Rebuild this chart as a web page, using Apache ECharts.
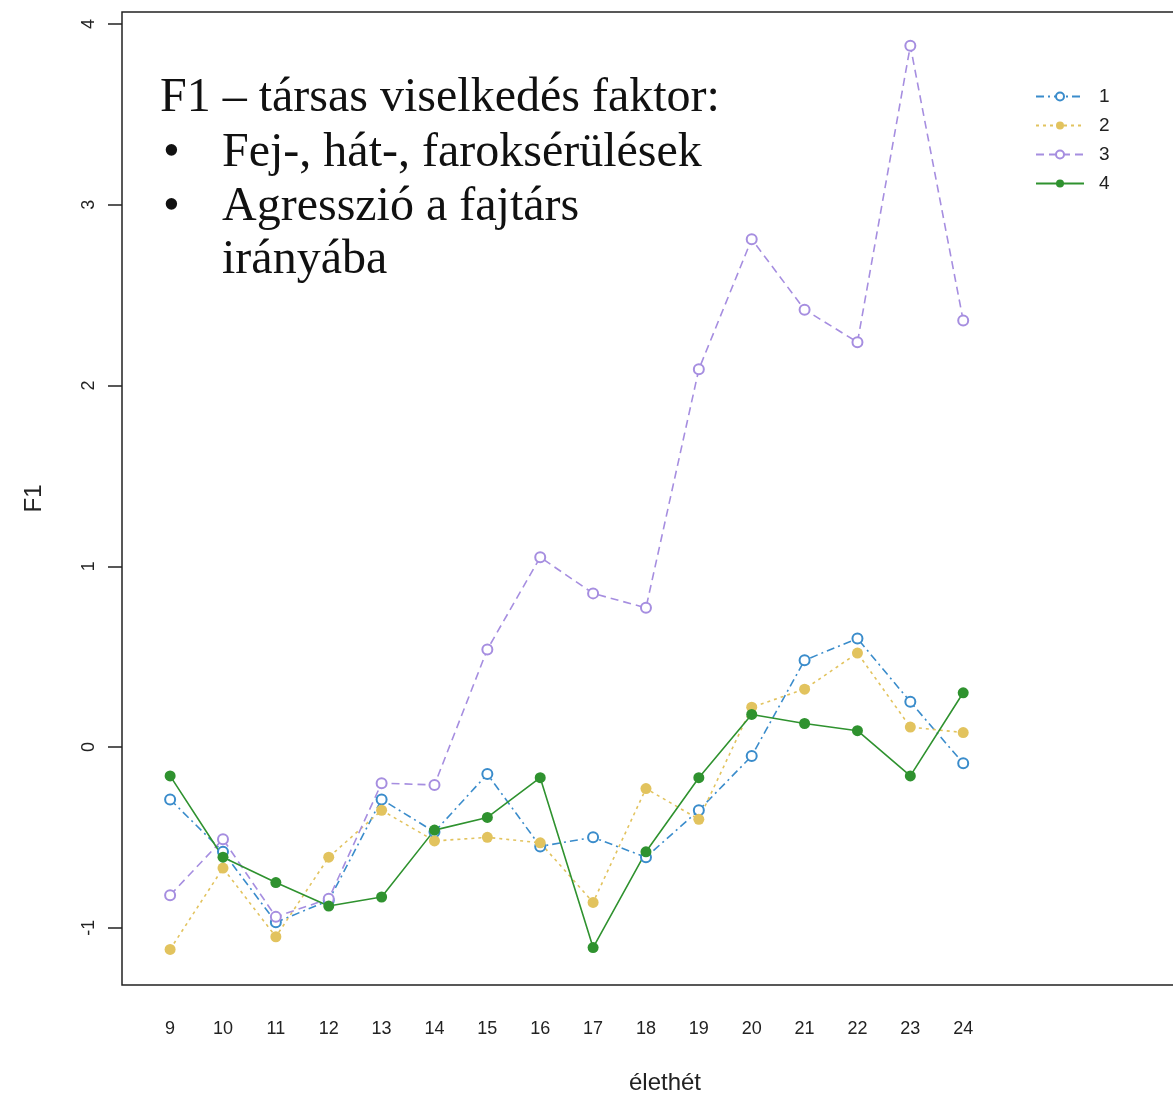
<!DOCTYPE html>
<html>
<head>
<meta charset="utf-8" />
<title>F1 - élethét</title>
<script src="https://cdn.jsdelivr.net/npm/echarts@6/dist/echarts.min.js"></script>
<style>
  html, body { margin: 0; padding: 0; background: #fff; }
  #chart { width: 1173px; height: 1101px; }
</style>
</head>
<body>
<div id="chart"></div>
<script>
// hetek (x tengely)
var weeks = [9, 10, 11, 12, 13, 14, 15, 16, 17, 18, 19, 20, 21, 22, 23, 24];
var groupNames = ['1', '2', '3', '4'];
var yTicks = [-1, 0, 1, 2, 3, 4];

// F1 értékek csoportonként
var group1 = [-0.29, -0.58, -0.97, -0.85, -0.29, -0.47, -0.15, -0.55, -0.50, -0.61, -0.35, -0.05, 0.48, 0.60, 0.25, -0.09];
var group2 = [-1.12, -0.67, -1.05, -0.61, -0.35, -0.52, -0.50, -0.53, -0.86, -0.23, -0.40, 0.22, 0.32, 0.52, 0.11, 0.08];
var group3 = [-0.82, -0.51, -0.94, -0.84, -0.20, -0.21, 0.54, 1.05, 0.85, 0.77, 2.09, 2.81, 2.42, 2.24, 3.88, 2.36];
var group4 = [-0.16, -0.61, -0.75, -0.88, -0.83, -0.46, -0.39, -0.17, -1.11, -0.58, -0.17, 0.18, 0.13, 0.09, -0.16, 0.30];

function pairs(vals) {
  return weeks.map(function (w, i) { return [w, vals[i]]; });
}

var colors = ['#3a8ccb', '#e2c35e', '#a68ee0', '#2f922f'];
var dashes = [[8, 4, 2, 4], [3, 4], [8, 5], 'solid'];
var allData = [group1, group2, group3, group4];
var filled = [false, true, false, true];

var series = allData.map(function (vals, k) {
  return {
    name: groupNames[k],
    type: 'line',
    data: pairs(vals),
    symbol: filled[k] ? 'circle' : 'emptyCircle',
    symbolSize: filled[k] ? 11 : 10,
    itemStyle: { color: colors[k], borderWidth: filled[k] ? 0 : 2 },
    lineStyle: { color: colors[k], width: 1.6, type: dashes[k] },
    animation: false
  };
});

var chart = echarts.init(document.getElementById('chart'));
var labelFont = { fontFamily: 'Liberation Sans, Arial, sans-serif', fontSize: 18, color: '#222' };
var serif = '48px "Liberation Serif", "Times New Roman", serif';

chart.setOption({
  backgroundColor: '#fff',
  grid: {
    left: 122, top: 12, right: -35, bottom: 116,
    outerBoundsMode: 'none',
    show: true, borderColor: '#222', borderWidth: 1.5, backgroundColor: 'transparent'
  },
  legend: {
    orient: 'vertical',
    left: 1030, top: 82,
    itemWidth: 48, itemHeight: 10, itemGap: 10,
    textStyle: { fontFamily: 'Liberation Sans, Arial, sans-serif', fontSize: 19, color: '#222', padding: [0, 0, 0, 10] },
    data: groupNames
  },
  xAxis: {
    type: 'value',
    min: 8.09, max: 28.63,
    name: 'élethét',
    nameLocation: 'middle',
    nameGap: 86,
    nameTextStyle: { fontFamily: 'Liberation Sans, Arial, sans-serif', fontSize: 24, color: '#222' },
    axisLine: { show: false },
    axisTick: { show: false },
    splitLine: { show: false },
    axisLabel: Object.assign({ customValues: weeks, margin: 35 }, labelFont)
  },
  yAxis: {
    type: 'value',
    min: -1.317, max: 4.067,
    name: 'F1',
    nameLocation: 'middle',
    nameGap: 76,
    nameRotate: 90,
    nameTextStyle: { fontFamily: 'Liberation Sans, Arial, sans-serif', fontSize: 24, color: '#222' },
    axisLine: { show: false },
    axisTick: { show: true, customValues: yTicks, length: 14, lineStyle: { color: '#222', width: 1.5 } },
    splitLine: { show: false },
    axisLabel: Object.assign({ customValues: yTicks, rotate: 90, margin: 24 }, labelFont)
  },
  graphic: [
    { type: 'text', left: 160, top: 74, style: { text: 'F1 – társas viselkedés faktor:', font: serif, fill: '#111' } },
    { type: 'text', left: 163, top: 129, style: { text: '•', font: serif, fill: '#111' } },
    { type: 'text', left: 222, top: 129, style: { text: 'Fej-, hát-, faroksérülések', font: serif, fill: '#111' } },
    { type: 'text', left: 163, top: 183, style: { text: '•', font: serif, fill: '#111' } },
    { type: 'text', left: 222, top: 183, style: { text: 'Agresszió a fajtárs', font: serif, fill: '#111' } },
    { type: 'text', left: 222, top: 236, style: { text: 'irányába', font: serif, fill: '#111' } }
  ],
  series: series
});
</script>
</body>
</html>
